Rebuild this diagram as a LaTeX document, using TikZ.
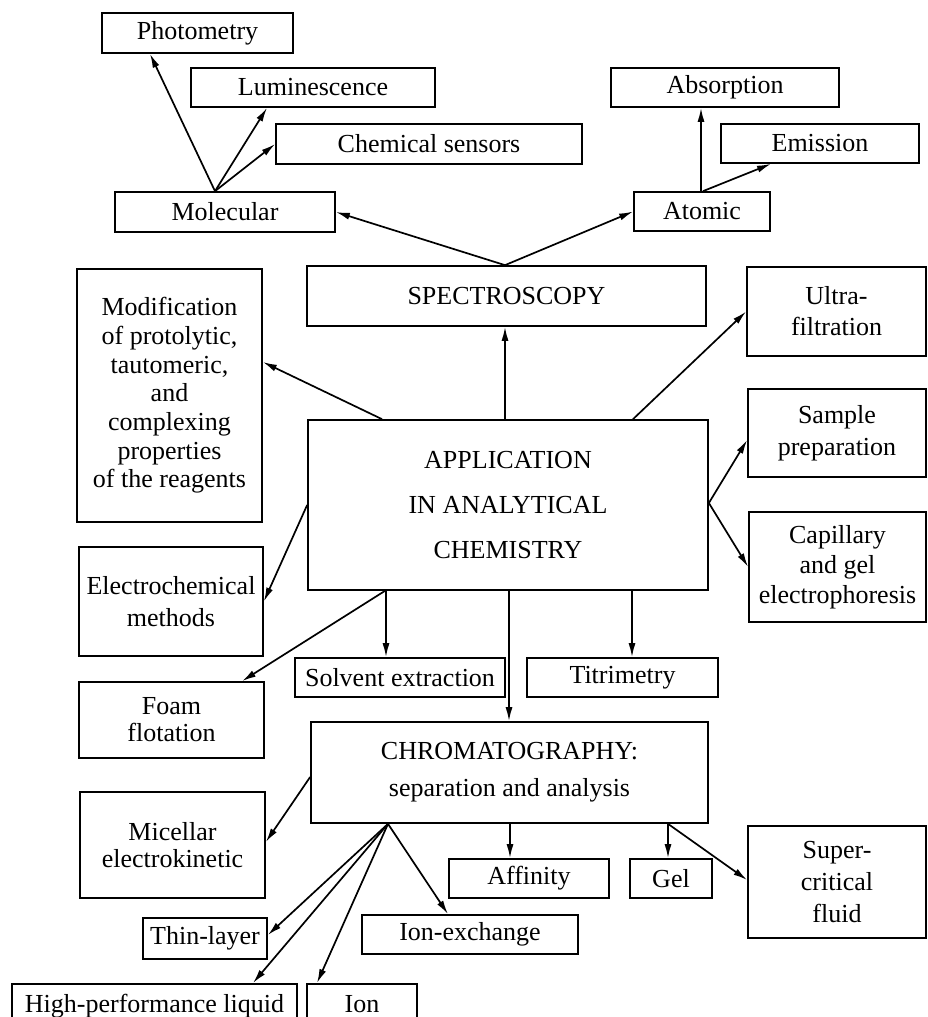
\documentclass[tikz,border=0pt]{standalone}
\usepackage{fontspec}
\setmainfont{Liberation Serif}
\usetikzlibrary{arrows.meta,calc}
\begin{document}
\begin{tikzpicture}[x=1pt,y=-1pt,
  box/.style={draw,line width=1.7pt,inner sep=0pt,align=center,font=\fontsize{26pt}{30pt}\selectfont},
  arr/.style={line width=1.7pt,-{Latex[length=14pt,width=7pt]}}]
\clip (0,0) rectangle (927,1017);
% top part
\node[box,minimum width=191pt,minimum height=40pt] (photo) at (197.5,33) {Photometry};
\node[box,minimum width=244pt,minimum height=39pt] (lumin) at (313,87.5) {Luminescence};
\node[box,minimum width=306pt,minimum height=40pt] (chem) at (429,144) {Chemical sensors};
\node[box,minimum width=220pt,minimum height=40pt] (molec) at (225,212) {Molecular};
\node[box,minimum width=228pt,minimum height=39pt] (absorb) at (725,87.5) {Absorption};
\node[box,minimum width=198pt,minimum height=39pt] (emis) at (820,143.5) {Emission};
\node[box,minimum width=136pt,minimum height=39pt] (atomic) at (702,211.5) {Atomic};
\node[box,minimum width=399pt,minimum height=60pt] (spec) at (506.5,296) {SPECTROSCOPY};
% middle
\node[box,minimum width=185pt,minimum height=253pt,font=\fontsize{26pt}{28.7pt}\selectfont] (modif) at (169.5,395.5)
  {Modification\\of protolytic,\\tautomeric,\\and\\complexing\\properties\\of the reagents};
\node[box,minimum width=400pt,minimum height=170pt,font=\fontsize{26pt}{45pt}\selectfont] (app) at (508,505)
  {APPLICATION\\IN ANALYTICAL\\CHEMISTRY};
\node[box,minimum width=179pt,minimum height=89pt,font=\fontsize{26pt}{31pt}\selectfont] (ultra) at (836.5,311.5) {Ultra-\\filtration};
\node[box,minimum width=178pt,minimum height=88pt,font=\fontsize{26pt}{32pt}\selectfont] (sample) at (837,433) {Sample\\preparation};
\node[box,minimum width=177pt,minimum height=110pt,font=\fontsize{26pt}{30pt}\selectfont] (capil) at (837.5,567) {Capillary\\and gel\\electrophoresis};
\node[box,minimum width=184pt,minimum height=109pt,font=\fontsize{26pt}{32pt}\selectfont] (electro) at (171,601.5) {Electrochemical\\methods};
\node[box,minimum width=185pt,minimum height=76pt,font=\fontsize{26pt}{27pt}\selectfont] (foam) at (171.5,720) {Foam\\flotation};
\node[box,minimum width=210pt,minimum height=39pt] (solvent) at (400,677.5) {Solvent extraction};
\node[box,minimum width=191pt,minimum height=39pt] (titri) at (622.5,677.5) {Titrimetry};
% chromatography
\node[box,minimum width=397pt,minimum height=101pt,font=\fontsize{26pt}{37pt}\selectfont] (chrom) at (509.5,772.5)
  {CHROMATOGRAPHY:\\separation and analysis};
\node[box,minimum width=185pt,minimum height=106pt,font=\fontsize{26pt}{27pt}\selectfont] (micel) at (172.5,845) {Micellar\\electrokinetic};
\node[box,minimum width=124pt,minimum height=41pt] (thin) at (205,938.5) {Thin-layer};
\node[box,minimum width=216pt,minimum height=39pt] (ionex) at (470,934.5) {Ion-exchange};
\node[box,minimum width=160pt,minimum height=39pt] (affin) at (529,878.5) {Affinity};
\node[box,minimum width=82pt,minimum height=39pt] (gel) at (671,878.5) {Gel};
\node[box,minimum width=178pt,minimum height=112pt,font=\fontsize{26pt}{32pt}\selectfont] (super) at (837,882) {Super-\\critical\\fluid};
\node[box,anchor=north,minimum width=285pt,text height=29pt,text depth=40pt] (hplc) at (154.5,983) {High-performance liquid};
\node[box,anchor=north,minimum width=110pt,text height=29pt,text depth=40pt] (ion) at (362,983) {Ion};
% connectors: top
\draw[arr] ([xshift=-10pt]molec.north) -- ([xshift=-47.5pt]photo.south);
\draw[arr] ([xshift=-10pt]molec.north) -- ([xshift=-46pt]lumin.south);
\draw[arr] ([xshift=-10pt]molec.north) -- (chem.west);
\draw[arr] ([xshift=-1pt]atomic.north) -- ([xshift=-24pt]absorb.south);
\draw[arr] ([xshift=1pt]atomic.north) -- ([xshift=-49pt]emis.south);
\draw[arr] ([xshift=-1.5pt]spec.north) -- (molec.east);
\draw[arr] ([xshift=-1.5pt]spec.north) -- (atomic.west);
% connectors: application
\draw[arr] ([xshift=-3pt]app.north) -- ([xshift=-1.5pt]spec.south);
\draw[arr] ([xshift=-126pt]app.north) -- ([yshift=33.5pt]modif.east);
\draw[arr] ([xshift=125pt]app.north) -- (ultra.west);
\draw[arr] ([yshift=2pt]app.east) -- ([yshift=-7pt]sample.west);
\draw[arr] ([yshift=2pt]app.east) -- (capil.west);
\draw[arr] (app.west) -- (electro.east);
\draw[arr] ([xshift=-123pt]app.south) -- ([xshift=70.5pt]foam.north);
\draw[arr] ([xshift=-122pt]app.south) -- ([xshift=-14pt]solvent.north);
\draw[arr] ([xshift=1pt]app.south) -- ([xshift=-0.5pt]chrom.north);
\draw[arr] ([xshift=124pt]app.south) -- ([xshift=9.5pt]titri.north);
% connectors: chromatography
\draw[arr] ([yshift=-4.5pt]chrom.west) -- ([yshift=3pt]micel.east);
\draw[arr] ([xshift=-121.5pt]chrom.south) -- ([yshift=3.5pt]thin.east);
\draw[arr] ([xshift=-121.5pt]chrom.south) -- ([xshift=98.5pt]hplc.north);
\draw[arr] ([xshift=-121.5pt]chrom.south) -- ([xshift=-45pt]ion.north);
\draw[arr] ([xshift=-121.5pt]chrom.south) -- ([xshift=-22pt]ionex.north);
\draw[arr] ([xshift=0.5pt]chrom.south) -- ([xshift=-19pt]affin.north);
\draw[arr] ([xshift=158.5pt]chrom.south) -- ([xshift=-3pt]gel.north);
\draw[arr] ([xshift=158.5pt]chrom.south) -- ([yshift=2pt]super.west);
\end{tikzpicture}
\end{document}
